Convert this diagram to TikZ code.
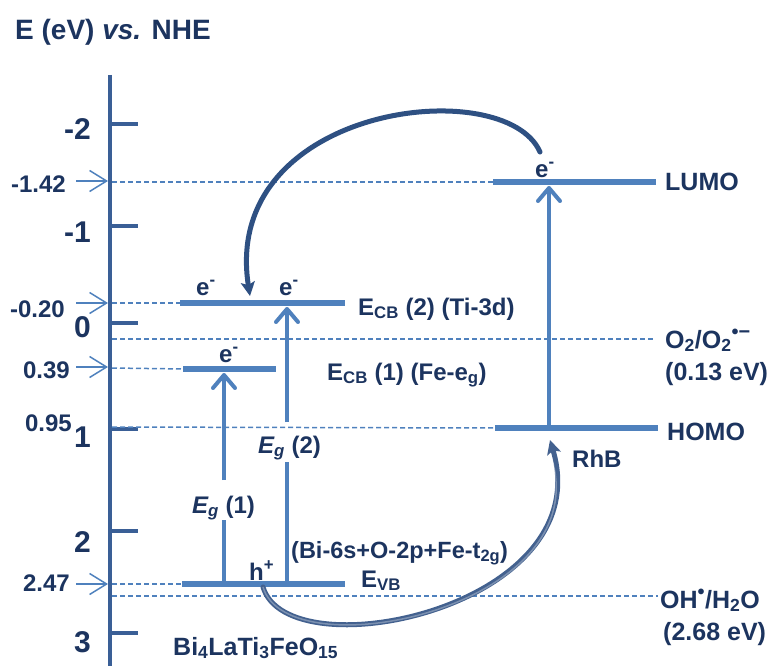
\documentclass[tikz,border=0pt]{standalone}
\usepackage{fontspec}
\setmainfont{Liberation Sans}
\usetikzlibrary{arrows.meta}
\definecolor{txt}{RGB}{28,52,95}
\definecolor{axisc}{RGB}{58,95,150}
\definecolor{lvl}{RGB}{79,129,189}
\definecolor{curv}{RGB}{46,80,130}
\newcommand{\lsub}[1]{\textsubscript{#1}}
\newcommand{\lsup}[1]{\textsuperscript{#1}}
\begin{document}
\begin{tikzpicture}[x=1pt,y=-1pt,
  lab/.style={text=txt,font=\bfseries\fontsize{24}{28}\selectfont,inner sep=0pt},
  ticklab/.style={text=txt,font=\bfseries\fontsize{30}{34}\selectfont,inner sep=0pt,anchor=base east},
  vallab/.style={lab,anchor=base east},
  axisline/.style={axisc,line width=4pt},
  tickmark/.style={axisc,line width=4pt},
  level/.style={lvl,line width=6pt},
  guide/.style={lvl,line width=1.5pt,dash pattern=on 5pt off 3pt},
  pointer/.style={lvl,line width=1.5pt,-{Straight Barb[length=17pt,width=21pt]}},
  excite/.style={lvl,line width=4pt,-{Straight Barb[length=13pt,width=22pt,line cap=round,line join=round]}},
  gapline/.style={lvl,line width=4pt},
  transfer/.style={curv,line width=5pt,-{Stealth[length=14pt,width=14pt,inset=3pt]}}]
\useasboundingbox (0,0) rectangle (771,666);

% title
\node[lab,anchor=base west,font=\bfseries\fontsize{28}{32}\selectfont] (title) at (15,40) {E (eV) \textit{vs.} NHE};

% energy axis with ticks
\coordinate (axtop) at (110,75);
\coordinate (axbot) at (110,666);
\draw[axisline] (axtop) -- (axbot);
\foreach \yy/\lbl/\by/\nm in {124/-2/140/m2, 226/-1/242/m1, 323/0/337/z0, 429/1/447/p1, 531/2/552/p2, 633/3/652/p3}{
  \coordinate (tk\nm) at (110,\yy);
  \draw[tickmark] (tk\nm) -- ++(28,0);
  \node[ticklab] (tl\nm) at (91,\by) {\lbl};
}

% band levels
\coordinate (cbtwoL) at (180,303);  \coordinate (cbtwoR) at (345,303);
\coordinate (cboneL) at (183,369);  \coordinate (cboneR) at (276,369);
\coordinate (vbL) at (182,584);     \coordinate (vbR) at (345,584);
\coordinate (lumoL) at (493,182);   \coordinate (lumoR) at (656,182);
\coordinate (homoL) at (495,428);   \coordinate (homoR) at (658,428);

% dashed guide lines
\coordinate (g1) at (112,182); \coordinate (g2) at (112,303); \coordinate (g3) at (112,339);
\coordinate (g4) at (112,368); \coordinate (g5) at (112,427); \coordinate (g6) at (112,584);
\coordinate (g7) at (112,596);
\coordinate (g3e) at (655,339); \coordinate (g7e) at (658,596);
\draw[guide] (g1) -- (lumoL);
\draw[guide] (g2) -- (cbtwoL);
\draw[guide] (g3) -- (g3e);
\draw[guide] (g4) -- (cboneL);
\draw[guide] (g5) -- (homoL);
\draw[guide] (g6) -- (vbL);
\draw[guide] (g7) -- (g7e);

\draw[level] (cbtwoL) -- (cbtwoR);
\draw[level] (cboneL) -- (cboneR);
\draw[level] (vbL) -- (vbR);
\draw[level] (lumoL) -- (lumoR);
\draw[level] (homoL) -- (homoR);

% value labels with pointers to the axis
\foreach \yy/\by/\rx/\lbl/\nm in {181/192/66/-1.42/a, 303/317/65/-0.20/b, 367/378/70/0.39/c, 584/591/70/2.47/d}{
  \node[vallab] (v\nm) at (\rx,\by) {\lbl};
  \coordinate (ps\nm) at (76,\yy);
  \coordinate (pe\nm) at (108,\yy);
  \draw[pointer] (ps\nm) -- (pe\nm);
}
\node[vallab] (ve) at (72,431) {0.95};

% excitation arrows
\coordinate (egoneB) at (224,581); \coordinate (egoneL) at (224,520);
\coordinate (egoneU) at (224,480); \coordinate (egoneT) at (224,373);
\draw[gapline] (egoneB) -- (egoneL);
\draw[excite] (egoneU) -- (egoneT);
\coordinate (egtwoB) at (287,581); \coordinate (egtwoL) at (287,462);
\coordinate (egtwoU) at (287,422); \coordinate (egtwoT) at (287,307);
\draw[gapline] (egtwoB) -- (egtwoL);
\draw[excite] (egtwoU) -- (egtwoT);
\coordinate (rhbB) at (549,425); \coordinate (rhbT) at (549,186);
\draw[excite] (rhbB) -- (rhbT);

% labels
\node[lab,anchor=base west] (egone) at (192,513) {\textit{E\lsub{g}} (1)};
\node[lab,anchor=base west] (egtwo) at (258,453) {\textit{E\lsub{g}} (2)};
\node[lab,anchor=base west] (ecbtwo) at (358,315) {E\lsub{CB} (2) (Ti-3d)};
\node[lab,anchor=base west] (ecbone) at (327,380) {E\lsub{CB} (1) (Fe-e\lsub{g})};
\node[lab,anchor=base west] (evb) at (361,587) {E\lsub{VB}};
\node[lab,anchor=base west,font=\bfseries\fontsize{23.5}{27}\selectfont] (orb) at (291,558) {(Bi-6s+O-2p+Fe-t\lsub{2g})};
\node[lab,anchor=base west,font=\bfseries\fontsize{25}{29}\selectfont] (cmpd) at (173,655) {Bi\lsub{4}LaTi\lsub{3}FeO\lsub{15}};
\node[lab,anchor=base west] (eA) at (196,295) {e\lsup{-}};
\node[lab,anchor=base west] (eB) at (279,295) {e\lsup{-}};
\node[lab,anchor=base west] (eC) at (219,362) {e\lsup{-}};
\node[lab,anchor=base west] (eD) at (535,177) {e\lsup{-}};
\node[lab,anchor=base west] (hp) at (249,580) {h\lsup{+}};
\node[lab,anchor=base west,font=\bfseries\fontsize{25}{29}\selectfont] (lumo) at (665,190) {LUMO};
\node[lab,anchor=base west,font=\bfseries\fontsize{25}{29}\selectfont] (homo) at (667,440) {HOMO};
\node[lab,anchor=base west] (rhb) at (572,467) {RhB};
\node[lab,anchor=base west,font=\bfseries\fontsize{25}{29}\selectfont] (otwo) at (665,348) {O\lsub{2}/O\lsub{2}\lsup{\fontsize{20}{20}\selectfont•−}};
\node[lab,anchor=base west,font=\bfseries\fontsize{25}{29}\selectfont] (otwov) at (665,380) {(0.13 eV)};
\node[lab,anchor=base west,font=\bfseries\fontsize{25}{29}\selectfont] (oh) at (660,608) {OH\lsup{\fontsize{20}{20}\selectfont•}/H\lsub{2}O};
\node[lab,anchor=base west,font=\bfseries\fontsize{25}{29}\selectfont] (ohv) at (663,640) {(2.68 eV)};

% charge transfer curves
\coordinate (cAstart) at (540,152);
\coordinate (cAend) at (250,296);
\draw[transfer,line cap=round] (cAstart) .. controls (505,72) and (220,105) .. (cAend);
\coordinate (cBstart) at (263,587);
\coordinate (cBend) at (550,440);
\coordinate (cBshine) at (551,456);
\draw[transfer,line cap=round,curv!90] (cBstart) .. controls (288,672) and (600,608) .. (cBend);
\draw[white,opacity=0.3,line width=1.5pt] (cBstart) .. controls (288,672) and (600,608) .. (cBshine);
\end{tikzpicture}
\end{document}
